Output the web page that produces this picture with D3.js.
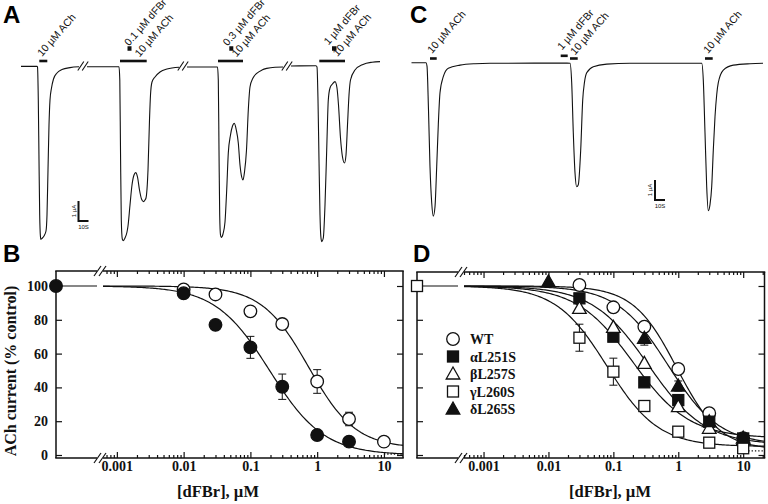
<!DOCTYPE html>
<html><head><meta charset="utf-8">
<script src="https://cdn.jsdelivr.net/npm/d3@7/dist/d3.min.js"></script>
<style>
html,body{margin:0;padding:0;background:#fff;}
svg{display:block;}
</style></head>
<body>
<svg id="chart" width="768" height="504" xmlns="http://www.w3.org/2000/svg"></svg>
<script>
// ================= DATA =================
// Panel A current traces: [time (s), current (µA)], one array per sweep segment
const traceA1 = [[0,-0.02],[16,-0.02],[16.5,-0.05],[17.3,-1.7],[18,-4.7],[18.7,-7.45],[19.4,-8.5],[19.9,-8.67],[21,-8.62],[23,-8.5],[25,-8.25],[26,-7.45],[27,-5.2],[28,-2.95],[29,-1.7],[30.5,-1.1],[32.5,-0.65],[36,-0.35],[41,-0.18],[49,-0.08],[58,-0.04]];
const traceA2 = [[66,-0.04],[98,-0.04],[98.8,-0.7],[99.5,-4.2],[100.3,-7.7],[101.3,-8.65],[102.3,-8.73],[104,-8.6],[106,-8.3],[107,-8.0],[109,-6.95],[111,-5.95],[113,-5.45],[114.7,-5.33],[116.5,-5.55],[118.5,-6.2],[120.5,-6.65],[122.5,-6.78],[124,-6.7],[125,-6.6],[127,-5.2],[128.5,-2.7],[129.5,-1.45],[131,-0.8],[134,-0.55],[139,-0.3],[146,-0.15],[158,-0.06]];
const traceA3 = [[166,-0.05],[196.5,-0.05],[197.3,-0.7],[198,-4.2],[198.7,-7.45],[199.5,-8.45],[200.3,-8.57],[202,-8.4],[204,-7.8],[205.7,-6.2],[207.3,-4.35],[209.5,-3.45],[211.5,-3.0],[213.3,-2.87],[215.3,-3.2],[217.3,-3.85],[219,-4.95],[220.7,-5.55],[222,-5.7],[223.5,-5.3],[225.5,-4.2],[227.3,-2.2],[229,-1.05],[232,-0.6],[235.7,-0.37],[241,-0.2],[245.7,-0.12],[254,-0.06],[262,-0.05]];
const traceA4 = [[270,0],[295,0.01],[296,-0.05],[297,-1.7],[298,-4.7],[299,-7.45],[299.8,-8.5],[300.7,-8.78],[302.3,-8.6],[304,-6.95],[305.7,-4.2],[307.3,-1.7],[309,-1.1],[311.5,-0.9],[314,-0.78],[316,-1.1],[317.5,-1.95],[319.5,-3.6],[321.5,-4.55],[323.5,-4.85],[325,-4.45],[326.5,-2.95],[328,-1.45],[329.5,-0.7],[334,-0.2],[342,0.08],[351,0.19],[359,0.22]];
const breaksA = [62, 162, 266];
const achBarsA = [[18.3,26.3],[99,125.7],[197,222],[298.3,324]];
const dfbrBarsA = [[106.5,110.5],[208.3,212.3],[311,315.5]];
const dfbrLabelsA = ["0.1 µM dFBr","0.3 µM dFBr","1 µM dFBr"];
const achLabel = "10 µM ACh";

// Panel C current trace
const traceC = [[0.5,0],[15,0],[16,-0.17],[17.5,-2.37],[19,-5.2],[20.7,-7.0],[22.3,-7.67],[24,-7.2],[25.7,-5.2],[27.3,-3.1],[29,-1.5],[32.3,-0.7],[37.3,-0.28],[49,-0.12],[64,-0.05],[79,-0.03],[156,-0.02],[159,-0.03],[160.7,-1.0],[162.3,-3.5],[164,-5.5],[165.7,-6.2],[167.3,-6.1],[169.7,-4.37],[171.7,-1.87],[173.5,-0.97],[175.7,-0.5],[182.3,-0.2],[195.7,-0.07],[219,-0.03],[290.7,-0.03],[292.3,-0.87],[294,-3.5],[295.7,-6.2],[297.3,-7.4],[299,-7.1],[300.7,-6.2],[302.3,-4.37],[304,-2.7],[305.7,-1.6],[307.3,-1.0],[312.3,-0.37],[322.3,-0.12],[339,-0.05],[352,-0.03]];
const achBarsC = [[19,25.7],[159,166.7],[294,301.7]];
const dfbrBarsC = [[149.7,156.7]];
const dfbrLabelsC = ["1 µM dFBr"];
const scaleBarSec = 10, scaleBarUA = 1;

// Concentration–response axes
const xTickVals = [0.001,0.01,0.1,1,10];
const xTickLabels = ["0.001","0.01","0.1","1","10"];
const yTickVals = [0,20,40,60,80,100];

// Panel B
const concB = [0.01,0.03,0.1,0.3,1,3,10];
const openB = [98,95,85,77.5,43.5,21.3,7.9];
const openBErr = [0,0,0,0,7,4,0];
const filledB = [95.7,77,63.7,40.4,11.8,7.9,null];
const filledBErr = [0,0,6.5,7.5,0,0,0];
const controlB = 100;
const fitOpenB = [0.746,1.236,4];     // IC50 (µM), nH, bottom (%)
const fitFilledB = [0.194,1.07,0];

// Panel D
const concD = [0.01,0.03,0.1,0.3,1,3,10];
const namesD = ["WT","αL251S","βL257S","γL260S","δL265S"];
const wtD    = [null,100.6,87.4,75.9,50.9,24.7,10];
const alphaD = [null,92.7,70,43,32.5,19.7,9.8];
const betaD  = [null,86.8,75.5,54.2,28.6,15.8,8.9];
const gammaD = [null,69.4,49.3,29,13.8,7.3,4];
const deltaD = [102.5,null,null,69,40.8,19.7,10];
const wtDErr    = [0,0,0,0,2,0,0];
const alphaDErr = [0,0,0,0,3,0,0];
const betaDErr  = [0,0,0,0,0,0,0];
const gammaDErr = [0,8,8,0,0,0,0];
const deltaDErr = [0,0,0,4,3,0,0];
const controlD = 100;
const fitWtD    = [0.95,1.3,3];
const fitAlphaD = [0.2,1.0,10];
const fitBetaD  = [0.35,1.0,6];
const fitGammaD = [0.08,1.1,5];
const fitDeltaD = [0.7,1.1,6];

// ================= DRAWING =================
const svg = d3.select("#chart");
const serif = "'Liberation Serif','Times New Roman',serif";
const sans = "'Liberation Sans',Arial,sans-serif";
const ink = "#111";

svg.append("rect").attr("width",768).attr("height",504).attr("fill","#fff");

// ---------- Trace panels ----------
function tracePanel(o){
  const g = svg.append("g");
  const x = d3.scaleLinear().domain([0,100]).range([o.x0, o.x0+100]);   // 1 px per s
  const y = d3.scaleLinear().domain([0,-1]).range([o.base, o.base+20]);  // 20 px per µA
  const line = d3.line().x(d=>x(d[0])).y(d=>y(d[1])).curve(d3.curveMonotoneX);
  o.traces.forEach(tr=>{
    g.append("path").attr("d",line(tr)).attr("fill","none").attr("stroke",ink).attr("stroke-width",1.1);
  });
  (o.breaks||[]).forEach(t=>{
    const cx = x(t), cy = y(0);
    [-2.2,2.2].forEach(dx=>{
      g.append("line").attr("x1",cx+dx-3).attr("y1",cy+4.5).attr("x2",cx+dx+3).attr("y2",cy-4.5)
        .attr("stroke",ink).attr("stroke-width",1.1);
    });
  });
  o.ach.forEach(b=>{
    g.append("rect").attr("x",x(b[0])).attr("y",o.achY-1.3).attr("width",x(b[1])-x(b[0])).attr("height",2.6).attr("fill",ink);
  });
  o.dfbr.forEach(b=>{
    g.append("rect").attr("x",x(b[0])).attr("y",o.dfbrY-o.dfbrH/2).attr("width",x(b[1])-x(b[0])).attr("height",o.dfbrH).attr("fill",ink);
  });
  o.labels.forEach(l=>{
    g.append("g").attr("transform",`translate(${l[0]},${l[1]})`)
      .append("text").attr("x",0).attr("y",0).attr("transform","rotate(-49)")
      .attr("font-family",sans).attr("font-size",10.5).attr("fill",ink).text(l[2]);
  });
  const sx = o.sb[0], sy = o.sb[1];
  const w = x(scaleBarSec)-x(0), h = y(-scaleBarUA)-y(0);
  g.append("path").attr("d",`M${sx},${sy-h}V${sy}H${sx+w}`).attr("fill","none").attr("stroke",ink).attr("stroke-width",2);
  g.append("text").attr("transform",`translate(${sx-3},${sy-h/2}) rotate(-90)`).attr("text-anchor","middle")
    .attr("font-family",sans).attr("font-size",6).attr("fill",ink).text(scaleBarUA+" µA");
  g.append("text").attr("x",sx+w/2).attr("y",sy+7.5).attr("text-anchor","middle")
    .attr("font-family",sans).attr("font-size",6).attr("fill",ink).text(scaleBarSec+"S");
}

tracePanel({
  x0:21, base:66, traces:[traceA1,traceA2,traceA3,traceA4], breaks:breaksA,
  ach:achBarsA, achY:61, dfbr:dfbrBarsA, dfbrY:48.5, dfbrH:4.5,
  labels:[[42,57,achLabel],[129,46.5,dfbrLabelsA[0]],[139.5,57.5,achLabel],
          [227.5,46.5,dfbrLabelsA[1]],[236.5,57.5,achLabel],
          [328.5,45.5,dfbrLabelsA[2]],[337.5,57,achLabel]],
  sb:[78.5,221]
});
tracePanel({
  x0:411, base:62.7, traces:[traceC], breaks:[],
  ach:achBarsC, achY:58.5, dfbr:dfbrBarsC, dfbrY:55.8, dfbrH:2.6,
  labels:[[432,54,achLabel],[562,50.5,dfbrLabelsC[0]],[575,55.5,achLabel],[708,54,achLabel]],
  sb:[655,200]
});

// ---------- Concentration-response panels ----------
function hill(c,p){ return p[2] + (100-p[2])/(1+Math.pow(c/p[0],p[1])); }

function symbol(g,type,filled,cx,cy){
  const fill = filled ? ink : "#fff";
  let s;
  if(type==="circle") s = g.append("circle").attr("cx",cx).attr("cy",cy).attr("r",6.3);
  else if(type==="square") s = g.append("rect").attr("x",cx-5.5).attr("y",cy-5.5).attr("width",11).attr("height",11);
  else s = g.append("path").attr("d",`M${cx},${cy-7}L${cx+6.8},${cy+5}L${cx-6.8},${cy+5}Z`);
  s.attr("fill",fill).attr("stroke",ink).attr("stroke-width",1.3);
}

function drPanel(o){
  const g = svg.append("g");
  const x = d3.scaleLog().domain(o.xdom).range([o.logX0,o.right]);
  const y = d3.scaleLinear().domain([0,100]).range([455,286]);
  const styleAxis = sel => { sel.select(".domain").remove();
    sel.selectAll("line").attr("stroke",ink).attr("stroke-width",1.2);
    sel.attr("font-family",serif).attr("font-size",14).attr("font-weight","bold");
    sel.selectAll("text").attr("fill",ink); };
  const majors = xTickVals.filter(v=>v>=o.xdom[0]&&v<=o.xdom[1]);
  const minors = [];
  for(let e=-4;e<=1;e++) for(let m=2;m<=9;m++){ const v=+(m*Math.pow(10,e)).toPrecision(3); if(v>=o.xdom[0]&&v<=o.xdom[1]) minors.push(v); }
  g.append("g").attr("transform",`translate(0,${o.bottom})`)
    .call(d3.axisBottom(x).tickValues(majors).tickSize(-6).tickPadding(3).tickFormat(d=>xTickLabels[xTickVals.indexOf(d)])).call(styleAxis);
  g.append("g").attr("transform",`translate(0,${o.bottom})`)
    .call(d3.axisBottom(x).tickValues(minors).tickSize(-3).tickFormat("")).call(styleAxis);
  g.append("g").attr("transform",`translate(0,${o.top})`)
    .call(d3.axisTop(x).tickValues(majors).tickSize(-6).tickFormat("")).call(styleAxis);
  g.append("g").attr("transform",`translate(0,${o.top})`)
    .call(d3.axisTop(x).tickValues(minors).tickSize(-3).tickFormat("")).call(styleAxis);
  g.append("g").attr("transform",`translate(${o.left},0)`)
    .call(d3.axisLeft(y).tickValues(yTickVals).tickSize(-6).tickPadding(8).tickFormat(o.yLabels? d3.format("d") : "")).call(styleAxis);
  g.append("g").attr("transform",`translate(${o.right},0)`)
    .call(d3.axisRight(y).tickValues(yTickVals).tickSize(-6).tickFormat("")).call(styleAxis);
  const bx = o.breakX, fw = 1.5;
  const fr = g.append("g").attr("stroke",ink).attr("stroke-width",fw).attr("fill","none");
  fr.append("path").attr("d",`M${o.left},${o.top}V${o.bottom}M${o.right},${o.top}V${o.bottom}`);
  [o.top,o.bottom].forEach(yy=>{
    fr.append("path").attr("d",`M${o.left-0.75},${yy}H${bx-3}M${bx+3},${yy}H${o.right+0.75}`);
    [-2.5,2.5].forEach(dx=>{
      fr.append("line").attr("x1",bx+dx-3.5).attr("y1",yy+5).attr("x2",bx+dx+3.5).attr("y2",yy-5).attr("stroke-width",1.2);
    });
  });
  const cy = y(o.control);
  g.append("line").attr("x1",o.left).attr("x2",bx-3).attr("y1",cy).attr("y2",cy).attr("stroke",ink).attr("stroke-width",1.2);
  const grid = d3.range(0,201).map(i=>o.xdom[0]*Math.pow(o.xdom[1]/o.xdom[0],i/200));
  o.series.forEach(s=>{
    const pts = grid.map(c=>[x(c), y(hill(c,s.fit))]);
    g.append("path").attr("d",d3.line()(pts)).attr("fill","none").attr("stroke",ink).attr("stroke-width",1.2);
  });
  if(o.dot){
    g.append("line").attr("x1",x(o.dot[0])).attr("x2",o.right).attr("y1",y(o.dot[1])).attr("y2",y(o.dot[1]))
      .attr("stroke",ink).attr("stroke-width",1.3).attr("stroke-dasharray","1.3,2");
  }
  o.series.forEach(s=>{
    o.conc.forEach((c,i)=>{
      const v=s.vals[i], e=s.err[i];
      if(v==null||!e) return;
      const xx=x(c), y1=y(v+e), y2=y(v-e);
      g.append("path").attr("d",`M${xx},${y1}V${y2}M${xx-4},${y1}H${xx+4}M${xx-4},${y2}H${xx+4}`)
        .attr("stroke",ink).attr("stroke-width",1).attr("fill","none");
    });
  });
  o.series.forEach(s=>{
    o.conc.forEach((c,i)=>{ const v=s.vals[i]; if(v==null) return; symbol(g,s.type,s.filled,x(c),y(v)); });
  });
  symbol(g,o.controlSym[0],o.controlSym[1],o.left,cy);
  g.append("text").attr("x",o.titleX).attr("y",497).attr("text-anchor","middle")
    .attr("font-family",serif).attr("font-size",16.5).attr("font-weight","bold").attr("fill",ink).text("[dFBr], µM");
  return {g,x,y};
}

drPanel({
  left:56, right:403, top:271, bottom:458, logX0:103, breakX:100,
  xdom:[0.00062,19.3], conc:concB, control:controlB, controlSym:["circle",true], yLabels:true,
  series:[
    {vals:openB, err:openBErr, fit:fitOpenB, type:"circle", filled:false},
    {vals:filledB, err:filledBErr, fit:fitFilledB, type:"circle", filled:true}
  ],
  dot:[10,0.6], titleX:218
});

drPanel({
  left:417, right:764.5, top:272, bottom:458, logX0:464, breakX:461,
  xdom:[0.0005,21.3], conc:concD, control:controlD, controlSym:["square",false], yLabels:false,
  series:[
    {vals:wtD, err:wtDErr, fit:fitWtD, type:"circle", filled:false},
    {vals:alphaD, err:alphaDErr, fit:fitAlphaD, type:"square", filled:true},
    {vals:betaD, err:betaDErr, fit:fitBetaD, type:"triangle", filled:false},
    {vals:gammaD, err:gammaDErr, fit:fitGammaD, type:"square", filled:false},
    {vals:deltaD, err:deltaDErr, fit:fitDeltaD, type:"triangle", filled:true}
  ],
  dot:[12,2.4], titleX:610
});

const legTypes = [["circle",false],["square",true],["triangle",false],["square",false],["triangle",true]];
namesD.forEach((n,i)=>{
  const yy = 339 + i*17.5;
  symbol(svg, legTypes[i][0], legTypes[i][1], 453, yy);
  svg.append("text").attr("x",470).attr("y",yy+5).attr("font-family",serif).attr("font-size",14)
    .attr("font-weight","bold").attr("fill",ink).text(n);
});

svg.append("text").attr("transform","translate(16,371) rotate(-90)").attr("text-anchor","middle")
  .attr("font-family",serif).attr("font-size",16).attr("font-weight","bold").attr("fill",ink)
  .text("ACh current (% control)");

[["A",3,23],["B",3,262],["C",410,23],["D",413,262]].forEach(p=>{
  svg.append("text").attr("x",p[1]).attr("y",p[2]).attr("font-family",sans).attr("font-size",24)
    .attr("font-weight","bold").attr("fill","#000").text(p[0]);
});
</script>
</body></html>
